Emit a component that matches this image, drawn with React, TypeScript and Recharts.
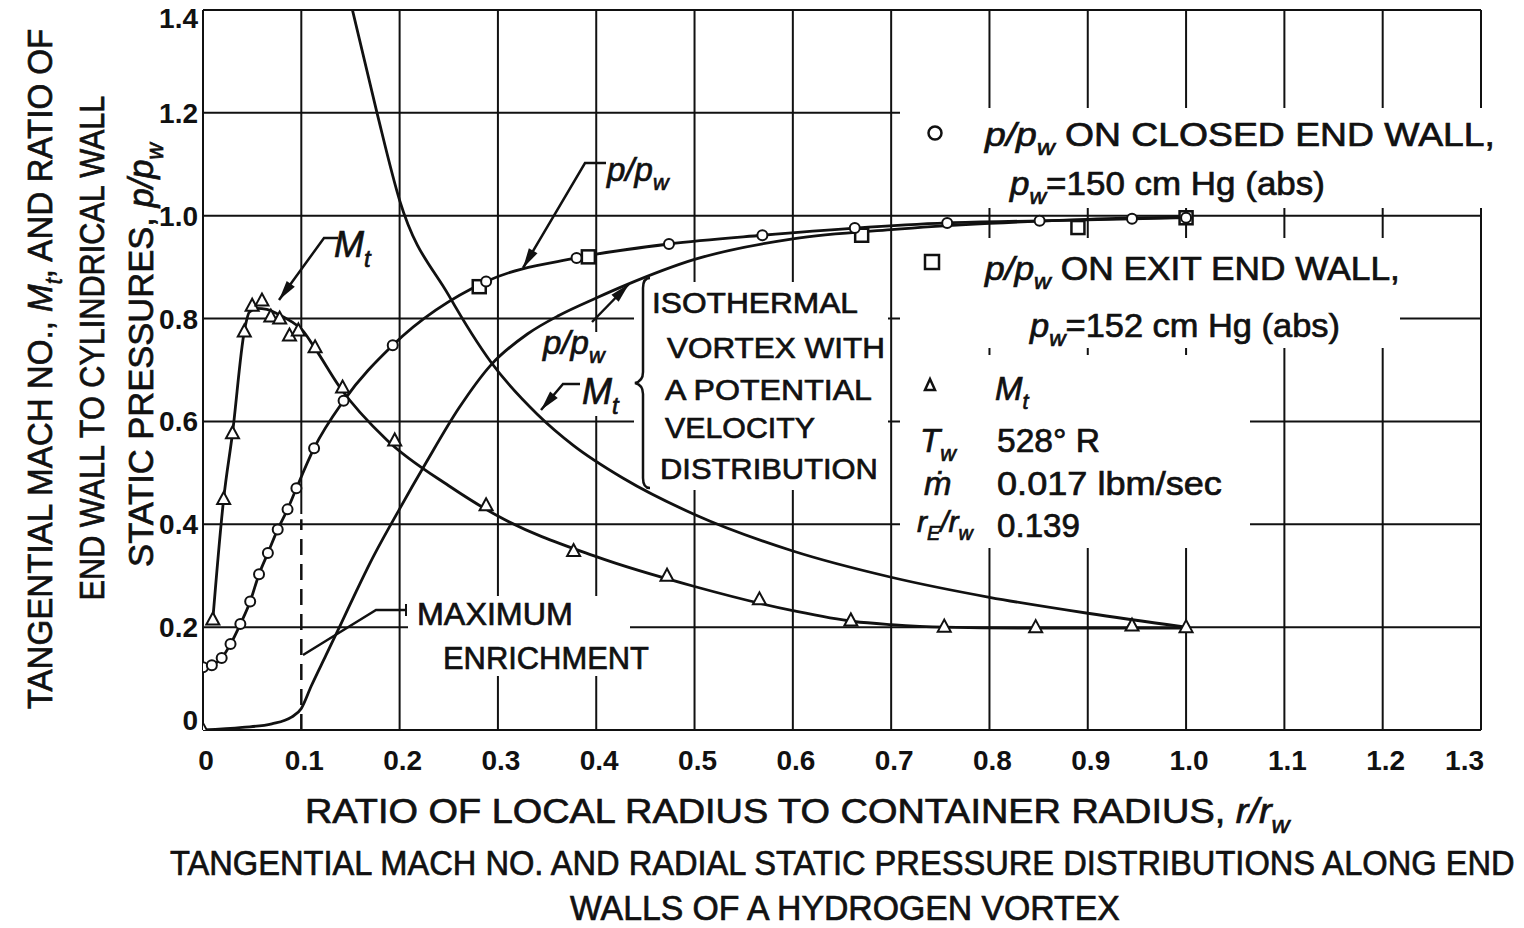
import React, { useLayoutEffect, useRef, useState } from "react"
import {
  CartesianGrid,
  ComposedChart,
  Line,
  ReferenceLine,
  Scatter,
  XAxis,
  YAxis,
} from "recharts"

// p/pw on closed end wall (circles)
const closedR = [0, 0.009, 0.019, 0.028, 0.038, 0.048, 0.057, 0.066, 0.076, 0.086, 0.095, 0.113, 0.143, 0.193, 0.288, 0.38, 0.474, 0.569, 0.663, 0.757, 0.851, 0.945, 1.0]
const closedP = [0.122, 0.126, 0.14, 0.167, 0.206, 0.25, 0.303, 0.344, 0.39, 0.429, 0.47, 0.548, 0.64, 0.748, 0.872, 0.918, 0.945, 0.962, 0.976, 0.986, 0.99, 0.994, 0.996]

// p/pw on exit end wall (squares)
const exitR = [0.281, 0.392, 0.67, 0.89, 1.0]
const exitP = [0.862, 0.92, 0.962, 0.977, 0.996]

// measured tangential Mach number (triangles)
const machR = [0, 0.01, 0.021, 0.03, 0.042, 0.05, 0.06, 0.069, 0.078, 0.088, 0.097, 0.114, 0.142, 0.195, 0.288, 0.377, 0.472, 0.566, 0.659, 0.754, 0.847, 0.945, 1.0]
const machM = [0, 0.215, 0.449, 0.577, 0.775, 0.825, 0.835, 0.804, 0.8, 0.767, 0.777, 0.744, 0.666, 0.563, 0.437, 0.348, 0.3, 0.254, 0.213, 0.201, 0.2, 0.203, 0.2]

// faired curve through the Mach points
const machFitR = [0.01, 0.021, 0.03, 0.042, 0.047, 0.055, 0.065, 0.075, 0.09, 0.1, 0.113, 0.139, 0.187, 0.25, 0.3, 0.4, 0.5, 0.6, 0.662, 0.7, 0.754, 0.85, 1.0]
const machFitM = [0.215, 0.449, 0.577, 0.775, 0.812, 0.82, 0.818, 0.81, 0.794, 0.78, 0.745, 0.667, 0.564, 0.475, 0.416, 0.337, 0.279, 0.232, 0.211, 0.205, 0.2, 0.198, 0.198]

// isothermal vortex with potential velocity distribution
const vortexMR = [0.14, 0.152, 0.177, 0.2, 0.25, 0.293, 0.34, 0.377, 0.427, 0.5, 0.6, 0.7, 0.8, 0.9, 1.0]
const vortexM = [1.5, 1.4, 1.2, 1.03, 0.845, 0.715, 0.614, 0.553, 0.49, 0.419, 0.348, 0.297, 0.258, 0.227, 0.2]
const vortexPR = [0, 0.04, 0.07, 0.09, 0.1, 0.11, 0.125, 0.14, 0.156, 0.17, 0.2, 0.227, 0.26, 0.293, 0.33, 0.362, 0.4, 0.43, 0.5, 0.6, 0.7, 0.8, 0.9, 1.0]
const vortexP = [0, 0.005, 0.012, 0.025, 0.042, 0.085, 0.145, 0.205, 0.27, 0.325, 0.43, 0.52, 0.625, 0.71, 0.77, 0.806, 0.84, 0.865, 0.915, 0.955, 0.973, 0.985, 0.993, 0.997]

const xTicks = [0, 0.1, 0.2, 0.3, 0.4, 0.5, 0.6, 0.7, 0.8, 0.9, 1.0, 1.1, 1.2, 1.3]
const yTicks = [0, 0.2, 0.4, 0.6, 0.8, 1.0, 1.2, 1.4]

const FONT = "'Liberation Sans', Arial, Helvetica, sans-serif"
const INK = "#111"
const HEAVY = { stroke: INK, strokeWidth: 0.7 }

const zip = (xs: number[], ys: number[]) => xs.map((x, i) => ({ x, y: ys[i] }))

function FitText({ x, y, width, rotate = 0, anchor = "start", size = 32, weight = "normal", children }: any) {
  const ref = useRef<SVGTextElement>(null)
  const [k, setK] = useState(1)
  useLayoutEffect(() => {
    const el = ref.current
    if (!el || !width) return
    const w = el.getComputedTextLength()
    if (w > 0) setK(width / w)
  }, [width])
  return (
    <g transform={`translate(${x},${y}) rotate(${rotate}) scale(${k},1)`}>
      <text ref={ref} x={0} y={0} textAnchor={anchor} fontSize={size} fontWeight={weight} fontFamily={FONT} fill={INK} {...HEAVY}>
        {children}
      </text>
    </g>
  )
}

function Arrow({ pts }: { pts: number[][] }) {
  const n = pts.length
  const [x1, y1] = pts[n - 2]
  const [x2, y2] = pts[n - 1]
  const a = Math.atan2(y2 - y1, x2 - x1)
  const L = 20
  const W = 5
  const bx = x2 - L * Math.cos(a)
  const by = y2 - L * Math.sin(a)
  const head = `${x2},${y2} ${bx + W * Math.sin(a)},${by - W * Math.cos(a)} ${bx - W * Math.sin(a)},${by + W * Math.cos(a)}`
  return (
    <g>
      <polyline points={pts.map((p) => p.join(",")).join(" ")} fill="none" stroke={INK} strokeWidth={2.5} />
      <polygon points={head} fill={INK} />
    </g>
  )
}

const circleShape = (p: any) => (
  <circle cx={p.cx} cy={p.cy} r={5} fill="#fff" stroke={INK} strokeWidth={2} />
)
const squareShape = (p: any) => (
  <rect x={p.cx - 6.5} y={p.cy - 6.5} width={13} height={13} fill="#fff" stroke={INK} strokeWidth={2.5} />
)
const triangleShape = (p: any) => (
  <polygon
    points={`${p.cx},${p.cy - 7} ${p.cx - 6.5},${p.cy + 5} ${p.cx + 6.5},${p.cy + 5}`}
    fill="#fff"
    stroke={INK}
    strokeWidth={2}
  />
)

const XTick = (p: any) => {
  const v = p.payload.value
  const label = v === 0 ? "0" : v.toFixed(1)
  const last = v === 1.3
  return (
    <text x={p.x + 3} y={770} textAnchor={last ? "end" : "middle"} fontSize={28} fontWeight="bold" fontFamily={FONT} fill={INK}>
      {label}
    </text>
  )
}

const YTick = (p: any) => {
  const v = p.payload.value
  const label = v === 0 ? "0" : v.toFixed(1)
  const dy = v === 0 ? 0 : v === 1.4 ? 18 : 10
  return (
    <text x={198} y={p.y + dy} textAnchor="end" fontSize={28} fontWeight="bold" fontFamily={FONT} fill={INK}>
      {label}
    </text>
  )
}

const sub = (fs: number) => ({ fontSize: fs * 0.66, dy: fs * 0.28 })

export default function App() {
  const closed = zip(closedR, closedP)
  const exit = zip(exitR, exitP)
  const mach = zip(machR, machM)
  const machFit = zip(machFitR, machFitM)
  const vM = zip(vortexMR, vortexM)
  const vP = zip(vortexPR, vortexP)
  const vGrid = xTicks.filter((t) => t !== 0 && t !== 0.1)

  const white = "#fff"
  const L = 33

  return (
    <div style={{ position: "absolute", left: 0, top: 0, width: 1524, height: 928, background: "#fff" }}>
      <ComposedChart width={1524} height={928} margin={{ top: 10, right: 43, bottom: 168, left: 0 }}>
        <CartesianGrid vertical={false} stroke={INK} strokeWidth={2} strokeOpacity={1} />
        <XAxis
          dataKey="x"
          type="number"
          domain={[0, 1.3]}
          ticks={xTicks}
          interval={0}
          allowDataOverflow
          height={30}
          tickLine={false}
          axisLine={{ stroke: INK, strokeWidth: 2 }}
          tick={XTick}
        />
        <YAxis
          dataKey="y"
          type="number"
          domain={[0, 1.4]}
          ticks={yTicks}
          interval={0}
          allowDataOverflow
          width={203}
          tickLine={false}
          axisLine={{ stroke: INK, strokeWidth: 2 }}
          tick={YTick}
        />
        {vGrid.map((t) => (
          <ReferenceLine key={t} x={t} stroke={INK} strokeWidth={2} />
        ))}
        <ReferenceLine segment={[{ x: 0.1, y: 0.42 }, { x: 0.1, y: 1.4 }]} stroke={INK} strokeWidth={2} />
        <ReferenceLine segment={[{ x: 0.1, y: 0 }, { x: 0.1, y: 0.41 }]} stroke={INK} strokeWidth={2.5} strokeDasharray="16 9" />

        <Line data={vM} dataKey="y" type="monotone" stroke={INK} strokeWidth={2.8} dot={false} isAnimationActive={false} />
        <Line data={vP} dataKey="y" type="monotone" stroke={INK} strokeWidth={2.8} dot={false} isAnimationActive={false} />
        <Line data={machFit} dataKey="y" type="monotone" stroke={INK} strokeWidth={2.8} dot={false} isAnimationActive={false} />
        <Line data={closed} dataKey="y" type="monotone" stroke={INK} strokeWidth={2.8} dot={false} isAnimationActive={false} />

        <Scatter data={mach} dataKey="y" shape={triangleShape} isAnimationActive={false} />
        <Scatter data={exit} dataKey="y" shape={squareShape} isAnimationActive={false} />
        <Scatter data={closed} dataKey="y" shape={circleShape} isAnimationActive={false} />
      </ComposedChart>

      <svg width={1524} height={928} style={{ position: "absolute", left: 0, top: 0, pointerEvents: "none" }}>
        {/* blank-outs behind the lettering */}
        <rect x={660} y={282} width={228} height={208} fill={white} />
        <rect x={634} y={292} width={30} height={190} fill={white} />
        <rect x={545} y={332} width={83} height={84} fill={white} />
        <rect x={408} y={596} width={222} height={80} fill={white} />
        <rect x={630} y={640} width={25} height={36} fill={white} />
        <rect x={900} y={108} width={624} height={100} fill={white} />
        <rect x={900} y={238} width={500} height={110} fill={white} />
        <rect x={900} y={355} width={350} height={193} fill={white} />

        {/* y axis title */}
        <FitText x={52} y={369} width={681} rotate={-90} anchor="middle" size={35}>
          TANGENTIAL  MACH NO.,{" "}
          <tspan fontStyle="italic">M</tspan>
          <tspan fontStyle="italic" {...sub(35)}>t</tspan>
          <tspan dy={-35 * 0.28}>, AND RATIO OF</tspan>
        </FitText>
        <FitText x={104} y={348} width={505} rotate={-90} anchor="middle" size={35}>
          END WALL TO CYLINDRICAL  WALL
        </FitText>
        <FitText x={153} y={355} width={424} rotate={-90} anchor="middle" size={35}>
          STATIC PRESSURES,{" "}
          <tspan fontStyle="italic">p/p</tspan>
          <tspan fontStyle="italic" {...sub(35)}>w</tspan>
        </FitText>

        {/* x axis title and caption */}
        <FitText x={305} y={823} width={985} size={36}>
          RATIO OF LOCAL RADIUS TO CONTAINER RADIUS,{" "}
          <tspan fontStyle="italic">r/r</tspan>
          <tspan fontStyle="italic" {...sub(36)}>w</tspan>
        </FitText>
        <FitText x={170} y={875} width={1345} size={35}>
          TANGENTIAL  MACH NO. AND RADIAL STATIC PRESSURE DISTRIBUTIONS ALONG END
        </FitText>
        <FitText x={570} y={920} width={550} size={35}>
          WALLS  OF  A  HYDROGEN  VORTEX
        </FitText>

        {/* curve call-outs */}
        <Arrow pts={[[338, 238], [324, 238], [279, 300]]} />
        <text x={334} y={257} fontSize={36} fontStyle="italic" fontFamily={FONT} fill={INK} {...HEAVY}>
          M<tspan {...sub(36)}>t</tspan>
        </text>
        <Arrow pts={[[606, 163], [585, 163], [523, 268]]} />
        <text x={607} y={181} fontSize={33} fontStyle="italic" fontFamily={FONT} fill={INK} {...HEAVY}>
          p/p<tspan {...sub(33)}>w</tspan>
        </text>
        <Arrow pts={[[592, 322], [629, 284]]} />
        <text x={543} y={354} fontSize={33} fontStyle="italic" fontFamily={FONT} fill={INK} {...HEAVY}>
          p/p<tspan {...sub(33)}>w</tspan>
        </text>
        <Arrow pts={[[580, 384], [563, 384], [541, 410]]} />
        <text x={582} y={404} fontSize={36} fontStyle="italic" fontFamily={FONT} fill={INK} {...HEAVY}>
          M<tspan {...sub(36)}>t</tspan>
        </text>

        {/* brace and isothermal vortex note */}
        <path
          d="M650,278 Q643,278 643,288 L643,372 Q643,381 635,383 Q643,385 643,394 L643,478 Q643,488 650,488"
          fill="none"
          stroke={INK}
          strokeWidth={2.5}
        />
        <FitText x={652} y={313} width={206} size={30}>ISOTHERMAL</FitText>
        <FitText x={667} y={358} width={218} size={30}>VORTEX  WITH</FitText>
        <FitText x={665} y={400} width={207} size={30}>A POTENTIAL</FitText>
        <FitText x={665} y={438} width={150} size={30}>VELOCITY</FitText>
        <FitText x={660} y={479} width={218} size={30}>DISTRIBUTION</FitText>

        {/* maximum enrichment */}
        <polyline points="303,655 376,610 406,610" fill="none" stroke={INK} strokeWidth={2.5} />
        <line x1={406} y1={604} x2={406} y2={616} stroke={INK} strokeWidth={2} />
        <FitText x={417} y={625} width={156} size={31}>MAXIMUM</FitText>
        <FitText x={443} y={669} width={206} size={31}>ENRICHMENT</FitText>

        {/* legend */}
        <circle cx={935} cy={133} r={6.5} fill="#fff" stroke={INK} strokeWidth={2.5} />
        <FitText x={985} y={146} width={510} size={L}>
          <tspan fontStyle="italic">p/p</tspan>
          <tspan fontStyle="italic" {...sub(L)}>w</tspan>
          <tspan dy={-L * 0.28}>{"  ON CLOSED END WALL,"}</tspan>
        </FitText>
        <FitText x={1010} y={195} width={315} size={L}>
          <tspan fontStyle="italic">p</tspan>
          <tspan fontStyle="italic" {...sub(L)}>w</tspan>
          <tspan dy={-L * 0.28}>=150 cm Hg (abs)</tspan>
        </FitText>
        <rect x={925} y={255} width={14} height={14} fill="#fff" stroke={INK} strokeWidth={2.5} />
        <FitText x={985} y={280} width={415} size={L}>
          <tspan fontStyle="italic">p/p</tspan>
          <tspan fontStyle="italic" {...sub(L)}>w</tspan>
          <tspan dy={-L * 0.28}> ON EXIT END WALL,</tspan>
        </FitText>
        <FitText x={1030} y={337} width={310} size={L}>
          <tspan fontStyle="italic">p</tspan>
          <tspan fontStyle="italic" {...sub(L)}>w</tspan>
          <tspan dy={-L * 0.28}>=152 cm Hg (abs)</tspan>
        </FitText>
        <polygon points="930,379 925,390 935,390" fill="#fff" stroke={INK} strokeWidth={2.5} />
        <text x={995} y={400} fontSize={L} fontStyle="italic" fontFamily={FONT} fill={INK} {...HEAVY}>
          M<tspan {...sub(L)}>t</tspan>
        </text>
        <text x={920} y={452} fontSize={L} fontStyle="italic" fontFamily={FONT} fill={INK} {...HEAVY}>
          T<tspan {...sub(L)}>w</tspan>
        </text>
        <FitText x={997} y={452} width={103} size={L}>528° R</FitText>
        <text x={924} y={495} fontSize={L} fontStyle="italic" fontFamily={FONT} fill={INK} {...HEAVY}>
          ṁ
        </text>
        <FitText x={997} y={495} width={225} size={L}>0.017 lbm/sec</FitText>
        <text x={917} y={532} fontSize={30} fontStyle="italic" fontFamily={FONT} fill={INK} {...HEAVY}>
          r<tspan {...sub(30)}>E</tspan>
          <tspan dy={-30 * 0.28}>/r</tspan>
          <tspan {...sub(30)}>w</tspan>
        </text>
        <FitText x={997} y={537} width={83} size={L}>0.139</FitText>
      </svg>
    </div>
  )
}
